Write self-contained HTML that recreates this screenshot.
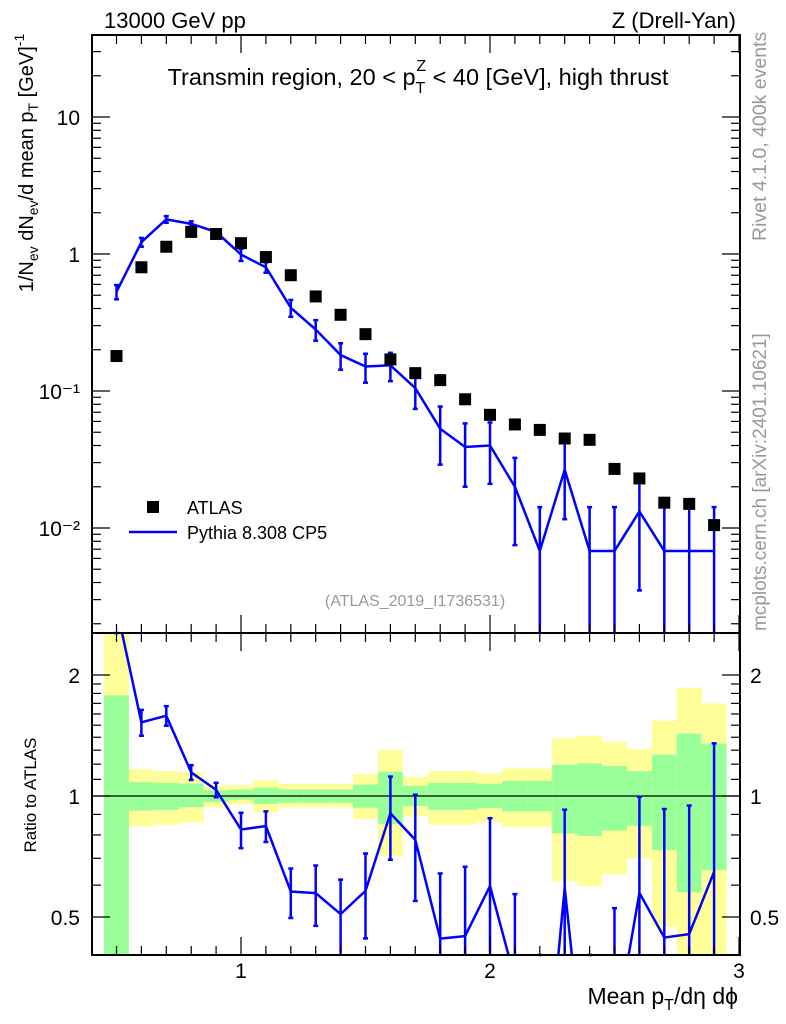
<!DOCTYPE html>
<html><head><meta charset="utf-8"><style>
html,body{margin:0;padding:0;background:#fff;overflow:hidden;width:786px;height:1024px;position:relative}
svg{display:block;position:absolute;left:0;top:0;font-family:"Liberation Sans","DejaVu Sans",sans-serif}
</style></head><body>
<svg id="chart" width="786" height="1024" viewBox="0 0 786 1024" xmlns="http://www.w3.org/2000/svg" overflow="hidden">
<g id="ratio-bands"></g>
<g id="ratio-marks"></g>
<g id="main-marks"></g>
<g id="axes"></g>
<text x="104" y="28" font-size="22">13000 GeV pp</text>
<text x="736" y="28" font-size="22" text-anchor="end">Z (Drell-Yan)</text>
<text x="418" y="85" font-size="23.5" text-anchor="middle">Transmin region, 20 &lt; p<tspan font-size="16" dy="8">T</tspan><tspan font-size="16" dx="-9" dy="-22">Z</tspan><tspan dy="14"> &lt; 40 [GeV], high thrust</tspan></text>
<text transform="translate(33,163) rotate(-90)" font-size="20" text-anchor="middle">1/N<tspan font-size="14" dy="5">ev</tspan><tspan dy="-5"> dN</tspan><tspan font-size="14" dy="5">ev</tspan><tspan dy="-5">/d mean p</tspan><tspan font-size="14" dy="5">T</tspan><tspan dy="-5"> [GeV]</tspan><tspan font-size="14" dy="-9">-1</tspan></text>
<text transform="translate(36,795) rotate(-90)" font-size="17" text-anchor="middle">Ratio to ATLAS</text>
<text x="738" y="1004" font-size="23" text-anchor="end">Mean p<tspan font-size="16" dy="6">T</tspan><tspan dy="-6">/dη dϕ</tspan></text>
<text transform="translate(766,241) rotate(-90)" font-size="19.5" fill="#999">Rivet 4.1.0,  400k events</text>
<text transform="translate(766,631) rotate(-90)" font-size="19" fill="#999">mcplots.cern.ch [arXiv:2401.10621]</text>
<text x="415" y="606" font-size="16" fill="#999" text-anchor="middle">(ATLAS_2019_I1736531)</text>
<g>
<rect x="147" y="501" width="12" height="12" fill="#000"/>
<text x="187" y="514" font-size="18">ATLAS</text>
<line x1="129" y1="532" x2="177" y2="532" stroke="#0000ff" stroke-width="2.5"/>
<text x="187" y="539" font-size="18">Pythia 8.308 CP5</text>
</g>
</svg>
<script>
const xs = [0.5,0.6,0.7,0.8,0.9,1.0,1.1,1.2,1.3,1.4,1.5,1.6,1.7,1.8,1.9,2.0,2.1,2.2,2.3,2.4,2.5,2.6,2.7,2.8,2.9];
const atlasVals = [0.18,0.8,1.13,1.45,1.4,1.2,0.95,0.7,0.49,0.36,0.26,0.17,0.135,0.12,0.087,0.067,0.057,0.052,0.045,0.044,0.027,0.023,0.0153,0.015,0.0105];
const mcVals = [0.53,1.22,1.79,1.66,1.45,0.99,0.80,0.405,0.281,0.183,0.151,0.154,0.105,0.053,0.039,0.040,0.020,0.0068,0.0266,0.0068,0.0068,0.0132,0.0068,0.0068,0.0068];
const mcErrs = [0.063,0.09,0.1,0.07,0.06,0.1,0.07,0.057,0.048,0.04,0.036,0.036,0.031,0.024,0.019,0.019,0.0125,0.0074,0.015,0.0074,0.0074,0.0097,0.0074,0.0074,0.0074];
const yellowHi = [2.6,1.165,1.154,1.147,1.063,1.063,1.095,1.073,1.073,1.073,1.133,1.302,1.116,1.154,1.154,1.137,1.171,1.171,1.393,1.41,1.364,1.31,1.54,1.86,1.70];
const yellowLo = [0.3,0.84,0.848,0.859,0.938,0.955,0.911,0.938,0.938,0.938,0.875,0.708,0.891,0.848,0.848,0.86,0.836,0.836,0.614,0.596,0.638,0.698,0.473,0.3,0.3];
const greenHi = [1.78,1.082,1.078,1.074,1.033,1.037,1.049,1.038,1.038,1.038,1.068,1.149,1.06,1.078,1.078,1.072,1.09,1.09,1.196,1.205,1.187,1.153,1.268,1.43,1.35];
const greenLo = [0.3,0.92,0.924,0.938,0.966,0.979,0.956,0.962,0.962,0.962,0.935,0.852,0.944,0.924,0.924,0.933,0.915,0.915,0.807,0.796,0.82,0.843,0.734,0.576,0.654];
const xTicksMajor = [1,2,3];
const yTicksMain = [10,1,0.1,0.01];
const yTickLabelsMain = ["10","1","10\u207B\u00B9","10\u207B\u00B2"];
const ratioTicks = [0.5,1,2];
const ratioTickLabels = ["0.5","1","2"];

const NS="http://www.w3.org/2000/svg";
const L=92,R=740,MT=35,MB=633,RT=633,RB=955,BW=0.1;
const xPix=v=>241+(v-1)*249;
const yMain=v=>254-137*Math.log10(v);
const yRatio=v=>796-121*Math.log2(v);
const clampM=y=>Math.max(MT,Math.min(MB,y));
const clampR=y=>Math.max(RT,Math.min(RB,y));
function mk(tag,attrs,parent){const e=document.createElementNS(NS,tag);for(const k in attrs)e.setAttribute(k,attrs[k]);parent.appendChild(e);return e;}
const bands=document.getElementById('ratio-bands'),rm=document.getElementById('ratio-marks'),mm=document.getElementById('main-marks'),ax=document.getElementById('axes');

xs.forEach((x,i)=>{
  const x0=Math.max(L,xPix(x-BW/2)),x1=xPix(x+BW/2);
  let t=clampR(yRatio(yellowHi[i])),b=clampR(yRatio(yellowLo[i]));
  const y=mk('rect',{x:x0,y:t,width:x1-x0,height:b-t,fill:'#ffff99'},bands);
  
  
  t=clampR(yRatio(greenHi[i]));b=clampR(yRatio(greenLo[i]));
  const g=mk('rect',{x:x0,y:t,width:x1-x0,height:b-t,fill:'#99ff99'},bands);
  
  
});
const one=mk('line',{x1:L,x2:R,y1:yRatio(1),y2:yRatio(1),stroke:'#000','stroke-width':1.2},bands);



const defs=mk('defs',{},document.getElementById('chart'));
const c1=mk('clipPath',{id:'clipMain'},defs);mk('rect',{x:L,y:MT,width:R-L,height:MB-MT},c1);
const c2=mk('clipPath',{id:'clipRatio'},defs);mk('rect',{x:L,y:RT,width:R-L,height:RB-RT},c2);

const ratios=xs.map((x,i)=>mcVals[i]/atlasVals[i]);
const rl=mk('polyline',{points:xs.map((x,i)=>xPix(x)+','+yRatio(ratios[i])).join(' '),fill:'none',stroke:'#0000ff','stroke-width':2.5,'clip-path':'url(#clipRatio)'},rm);


xs.forEach((x,i)=>{
  const e=mcErrs[i]/atlasVals[i],px=xPix(x);
  const hi=ratios[i]+e,lo=ratios[i]-e;
  const yt=clampR(yRatio(hi)),yb=lo>0?clampR(yRatio(lo)):RB;
  const g=mk('g',{stroke:'#0000ff','stroke-width':2.5},rm);
  
  
  mk('line',{x1:px,x2:px,y1:yt,y2:yb},g);
  if(yt>RT)mk('line',{x1:px-2.5,x2:px+2.5,y1:yt,y2:yt},g);
  if(yb<RB)mk('line',{x1:px-2.5,x2:px+2.5,y1:yb,y2:yb},g);
});

const ml=mk('polyline',{points:xs.map((x,i)=>xPix(x)+','+yMain(mcVals[i])).join(' '),fill:'none',stroke:'#0000ff','stroke-width':2.5,'clip-path':'url(#clipMain)'},mm);


xs.forEach((x,i)=>{
  const px=xPix(x),hi=mcVals[i]+mcErrs[i],lo=mcVals[i]-mcErrs[i];
  const yt=clampM(yMain(hi)),yb=lo>0?clampM(yMain(lo)):MB;
  const g=mk('g',{stroke:'#0000ff','stroke-width':2.5},mm);
  
  
  mk('line',{x1:px,x2:px,y1:yt,y2:yb},g);
  mk('line',{x1:px-2.5,x2:px+2.5,y1:yt,y2:yt},g);
  if(yb<MB)mk('line',{x1:px-2.5,x2:px+2.5,y1:yb,y2:yb},g);
});
xs.forEach((x,i)=>{
  const s=mk('rect',{x:xPix(x)-6,y:yMain(atlasVals[i])-6,width:12,height:12,fill:'#000'},mm);
  
  
});

[[MT,MB],[RT,RB]].forEach(([t,b],k)=>{
  const f=mk('rect',{x:L,y:t,width:R-L,height:b-t,fill:'none',stroke:'#000','stroke-width':2},ax);
  
  
});
for(let k=5;k<=30;k++){
  const v=k/10,px=xPix(v);if(px<L||px>R)continue;
  const len=(k%10===0)?18:9;
  [[MT,1],[MB,-1],[RT,1],[RB,-1]].forEach(([y0,d])=>mk('line',{x1:px,x2:px,y1:y0,y2:y0+d*len,stroke:'#000','stroke-width':1.2},ax));
}
xTicksMajor.forEach(v=>{
  const t=mk('text',{x:xPix(v),y:978,'font-size':21,'text-anchor':'middle'},ax);t.textContent=String(v);
  
  
});
for(let d=-3;d<=1;d++)for(let m=1;m<=9;m++){
  const v=m*Math.pow(10,d),py=yMain(v);if(py<MT||py>MB)continue;
  const len=m===1?18:9;
  mk('line',{x1:L,x2:L+len,y1:py,y2:py,stroke:'#000','stroke-width':1.2},ax);
  mk('line',{x1:R,x2:R-len,y1:py,y2:py,stroke:'#000','stroke-width':1.2},ax);
}
yTicksMain.forEach((v,i)=>{
  const t=mk('text',{x:80,y:yMain(v)+8,'font-size':21,'text-anchor':'end'},ax);t.textContent=yTickLabelsMain[i];
  
  
});
[0.4,0.5,0.6,0.7,0.8,0.9,1,1.1,1.2,1.3,1.4,1.5,1.6,1.7,1.8,1.9,2].forEach(v=>{
  const py=yRatio(v);if(py<RT||py>RB)return;
  const len=ratioTicks.includes(v)?18:9;
  mk('line',{x1:L,x2:L+len,y1:py,y2:py,stroke:'#000','stroke-width':1.2},ax);
  mk('line',{x1:R,x2:R-len,y1:py,y2:py,stroke:'#000','stroke-width':1.2},ax);
});
ratioTicks.forEach((v,i)=>{
  const t=mk('text',{x:80,y:yRatio(v)+8,'font-size':21,'text-anchor':'end'},ax);t.textContent=ratioTickLabels[i];
  
  
  const t2=mk('text',{x:750,y:yRatio(v)+8,'font-size':21},ax);t2.textContent=ratioTickLabels[i];
  
  
});
</script>
</body></html>
